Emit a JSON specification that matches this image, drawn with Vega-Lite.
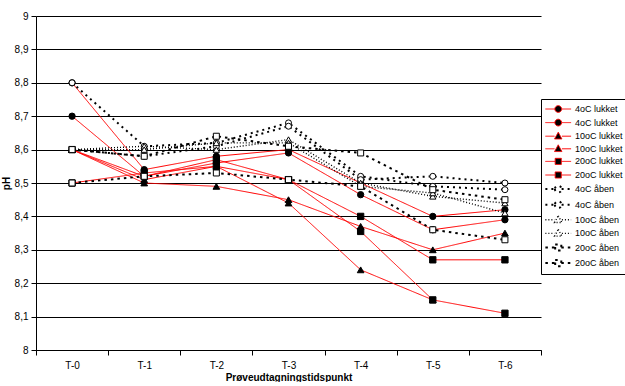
{
  "$schema": "https://vega.github.io/schema/vega-lite/v6.json",
  "width": 505,
  "height": 334,
  "padding": {"left": 1, "top": 11, "right": 0, "bottom": 0},
  "background": "white",
  "config": {
    "view": {"stroke": null},
    "font": "Liberation Sans",
    "axis": {"domainColor": "black", "tickColor": "black", "labelColor": "black", "titleColor": "black", "labelFont": "Liberation Sans", "titleFont": "Liberation Sans"}
  },
  "data": {"values": [
    {"s": "4oC lukket|1", "t": "T-0", "pH": 8.80}, {"s": "4oC lukket|1", "t": "T-1", "pH": 8.54}, {"s": "4oC lukket|1", "t": "T-2", "pH": 8.58}, {"s": "4oC lukket|1", "t": "T-3", "pH": 8.60}, {"s": "4oC lukket|1", "t": "T-4", "pH": 8.50}, {"s": "4oC lukket|1", "t": "T-5", "pH": 8.40}, {"s": "4oC lukket|1", "t": "T-6", "pH": 8.42},
    {"s": "4oC lukket|2", "t": "T-0", "pH": 8.70}, {"s": "4oC lukket|2", "t": "T-1", "pH": 8.52}, {"s": "4oC lukket|2", "t": "T-2", "pH": 8.56}, {"s": "4oC lukket|2", "t": "T-3", "pH": 8.59}, {"s": "4oC lukket|2", "t": "T-4", "pH": 8.465}, {"s": "4oC lukket|2", "t": "T-5", "pH": 8.36}, {"s": "4oC lukket|2", "t": "T-6", "pH": 8.39},
    {"s": "10oC lukket|1", "t": "T-0", "pH": 8.60}, {"s": "10oC lukket|1", "t": "T-1", "pH": 8.50}, {"s": "10oC lukket|1", "t": "T-2", "pH": 8.49}, {"s": "10oC lukket|1", "t": "T-3", "pH": 8.45}, {"s": "10oC lukket|1", "t": "T-4", "pH": 8.37}, {"s": "10oC lukket|1", "t": "T-5", "pH": 8.30}, {"s": "10oC lukket|1", "t": "T-6", "pH": 8.35},
    {"s": "10oC lukket|2", "t": "T-0", "pH": 8.60}, {"s": "10oC lukket|2", "t": "T-1", "pH": 8.51}, {"s": "10oC lukket|2", "t": "T-2", "pH": 8.55}, {"s": "10oC lukket|2", "t": "T-3", "pH": 8.44}, {"s": "10oC lukket|2", "t": "T-4", "pH": 8.24}, {"s": "10oC lukket|2", "t": "T-5", "pH": 8.15},
    {"s": "20oC lukket|1", "t": "T-0", "pH": 8.50}, {"s": "20oC lukket|1", "t": "T-1", "pH": 8.53}, {"s": "20oC lukket|1", "t": "T-2", "pH": 8.55}, {"s": "20oC lukket|1", "t": "T-3", "pH": 8.51}, {"s": "20oC lukket|1", "t": "T-4", "pH": 8.40}, {"s": "20oC lukket|1", "t": "T-5", "pH": 8.27}, {"s": "20oC lukket|1", "t": "T-6", "pH": 8.27},
    {"s": "20oC lukket|2", "t": "T-0", "pH": 8.60}, {"s": "20oC lukket|2", "t": "T-1", "pH": 8.52}, {"s": "20oC lukket|2", "t": "T-2", "pH": 8.57}, {"s": "20oC lukket|2", "t": "T-3", "pH": 8.51}, {"s": "20oC lukket|2", "t": "T-4", "pH": 8.355}, {"s": "20oC lukket|2", "t": "T-5", "pH": 8.15}, {"s": "20oC lukket|2", "t": "T-6", "pH": 8.11},
    {"s": "4oC åben|1", "t": "T-0", "pH": 8.80}, {"s": "4oC åben|1", "t": "T-1", "pH": 8.61}, {"s": "4oC åben|1", "t": "T-2", "pH": 8.62}, {"s": "4oC åben|1", "t": "T-3", "pH": 8.68}, {"s": "4oC åben|1", "t": "T-4", "pH": 8.52}, {"s": "4oC åben|1", "t": "T-5", "pH": 8.49}, {"s": "4oC åben|1", "t": "T-6", "pH": 8.48},
    {"s": "4oC åben|2", "t": "T-0", "pH": 8.60}, {"s": "4oC åben|2", "t": "T-1", "pH": 8.58}, {"s": "4oC åben|2", "t": "T-2", "pH": 8.61}, {"s": "4oC åben|2", "t": "T-3", "pH": 8.67}, {"s": "4oC åben|2", "t": "T-4", "pH": 8.51}, {"s": "4oC åben|2", "t": "T-5", "pH": 8.52}, {"s": "4oC åben|2", "t": "T-6", "pH": 8.50},
    {"s": "10oC åben|1", "t": "T-0", "pH": 8.60}, {"s": "10oC åben|1", "t": "T-1", "pH": 8.61}, {"s": "10oC åben|1", "t": "T-2", "pH": 8.60}, {"s": "10oC åben|1", "t": "T-3", "pH": 8.63}, {"s": "10oC åben|1", "t": "T-4", "pH": 8.50}, {"s": "10oC åben|1", "t": "T-5", "pH": 8.46}, {"s": "10oC åben|1", "t": "T-6", "pH": 8.44},
    {"s": "10oC åben|2", "t": "T-0", "pH": 8.60}, {"s": "10oC åben|2", "t": "T-1", "pH": 8.60}, {"s": "10oC åben|2", "t": "T-2", "pH": 8.62}, {"s": "10oC åben|2", "t": "T-3", "pH": 8.62}, {"s": "10oC åben|2", "t": "T-4", "pH": 8.49}, {"s": "10oC åben|2", "t": "T-5", "pH": 8.47}, {"s": "10oC åben|2", "t": "T-6", "pH": 8.41},
    {"s": "20oC åben|1", "t": "T-0", "pH": 8.60}, {"s": "20oC åben|1", "t": "T-1", "pH": 8.58}, {"s": "20oC åben|1", "t": "T-2", "pH": 8.64}, {"s": "20oC åben|1", "t": "T-3", "pH": 8.61}, {"s": "20oC åben|1", "t": "T-4", "pH": 8.59}, {"s": "20oC åben|1", "t": "T-5", "pH": 8.48}, {"s": "20oC åben|1", "t": "T-6", "pH": 8.45},
    {"s": "20oC åben|2", "t": "T-0", "pH": 8.50}, {"s": "20oC åben|2", "t": "T-1", "pH": 8.52}, {"s": "20oC åben|2", "t": "T-2", "pH": 8.53}, {"s": "20oC åben|2", "t": "T-3", "pH": 8.51}, {"s": "20oC åben|2", "t": "T-4", "pH": 8.49}, {"s": "20oC åben|2", "t": "T-5", "pH": 8.36}, {"s": "20oC åben|2", "t": "T-6", "pH": 8.33}
  ]},
  "encoding": {
    "x": {
      "field": "t", "type": "ordinal", "bandPosition": 0.5,
      "scale": {"type": "band", "paddingInner": 0, "paddingOuter": 0},
      "axis": {"title": "Prøveudtagningstidspunkt", "titleFontSize": 10, "titleFontWeight": "bold", "titlePadding": 2, "labelAngle": 0, "labelFontSize": 10, "labelPadding": 5, "tickBand": "extent", "tickSize": 5, "grid": false}
    },
    "y": {
      "field": "pH", "type": "quantitative",
      "scale": {"domain": [8, 9], "nice": false, "zero": false},
      "axis": {"title": "pH", "titleFontSize": 10, "titleFontWeight": "bold", "titlePadding": 3, "values": [8, 8.1, 8.2, 8.3, 8.4, 8.5, 8.6, 8.7, 8.8, 8.9, 9], "labelExpr": "replace(toString(round(datum.value*10)/10), '.', ',')", "labelFontSize": 10, "labelPadding": 3, "tickSize": 5, "grid": true, "gridColor": "black", "gridWidth": 1, "gridOpacity": 1}
    }
  },
  "layer": [
    {
      "mark": {"type": "line"},
      "encoding": {
        "color": {
          "field": "s", "type": "nominal",
          "scale": {
            "domain": ["4oC lukket|1", "4oC lukket|2", "10oC lukket|1", "10oC lukket|2", "20oC lukket|1", "20oC lukket|2", "4oC åben|1", "4oC åben|2", "10oC åben|1", "10oC åben|2", "20oC åben|1", "20oC åben|2"],
            "range": ["#ff0000", "#ff0000", "#ff0000", "#ff0000", "#ff0000", "#ff0000", "black", "black", "black", "black", "black", "black"]
          },
          "legend": {
            "title": null, "orient": "none", "legendX": 505, "legendY": 83,
            "labelExpr": "split(datum.label, '|')[0]",
            "labelFontSize": 9, "labelFont": "Liberation Sans", "labelColor": "black",
            "strokeColor": "black", "fillColor": "white", "padding": 3,
            "symbolSize": 150, "symbolStrokeWidth": 1.2, "rowPadding": 0.6, "labelOffset": 16,
            "encode": {"symbols": {"update": {
              "shape": {"signal": "indexof(datum.value,'4oC')===0 ? 'M-1,0L0.55,0M1.65,0L3.2,0M0.55,0A0.55,0.55,0,1,0,1.65,0A0.55,0.55,0,1,0,0.55,0Z' : indexof(datum.value,'10oC')===0 ? 'M-1,0L0.5,0M1.7,0L3.2,0M1.1,-0.65L1.7,0.45L0.5,0.45Z' : 'M-1,0L0.6,0M1.6,0L3.2,0M0.6,-0.5L1.6,-0.5L1.6,0.5L0.6,0.5Z'"},
              "fill": {"signal": "indexof(datum.value,'åben')>=0 ? 'white' : 'black'"},
              "strokeWidth": {"signal": "indexof(datum.value,'10oC åben')===0 ? 1.3 : indexof(datum.value,'åben')>=0 ? 1.8 : 1.2"},
              "opacity": {"value": 1}
            }}}
          }
        },
        "strokeDash": {
          "field": "s", "type": "nominal",
          "scale": {
            "domain": ["4oC lukket|1", "4oC lukket|2", "10oC lukket|1", "10oC lukket|2", "20oC lukket|1", "20oC lukket|2", "4oC åben|1", "4oC åben|2", "10oC åben|1", "10oC åben|2", "20oC åben|1", "20oC åben|2"],
            "range": [[1, 0], [1, 0], [1, 0], [1, 0], [1, 0], [1, 0], [2, 4], [2, 4], [1, 2], [1, 2], [2.5, 4], [2.5, 4]]
          },
          "legend": {"title": null}
        },
        "strokeWidth": {
          "field": "s", "type": "ordinal",
          "scale": {
            "type": "ordinal",
            "domain": ["4oC lukket|1", "4oC lukket|2", "10oC lukket|1", "10oC lukket|2", "20oC lukket|1", "20oC lukket|2", "4oC åben|1", "4oC åben|2", "10oC åben|1", "10oC åben|2", "20oC åben|1", "20oC åben|2"],
            "range": [1, 1, 1, 1, 1, 1, 2, 2, 1.4, 1.4, 2, 2]
          },
          "legend": null
        }
      }
    },
    {
      "transform": [{"filter": "indexof(datum.s,'4oC lukket')===0"}],
      "mark": {"type": "point", "shape": "circle", "filled": true, "fill": "black", "stroke": "black", "strokeWidth": 1, "opacity": 1, "size": 40}
    },
    {
      "transform": [{"filter": "indexof(datum.s,'10oC lukket')===0"}],
      "mark": {"type": "point", "shape": "triangle-up", "filled": true, "fill": "black", "stroke": "black", "strokeWidth": 1, "opacity": 1, "size": 45}
    },
    {
      "transform": [{"filter": "indexof(datum.s,'20oC lukket')===0"}],
      "mark": {"type": "point", "shape": "square", "filled": true, "fill": "black", "stroke": "black", "strokeWidth": 1, "opacity": 1, "size": 40}
    },
    {
      "transform": [{"filter": "indexof(datum.s,'4oC åben')===0"}],
      "mark": {"type": "point", "shape": "circle", "filled": true, "fill": "white", "stroke": "black", "strokeWidth": 1, "opacity": 1, "size": 36}
    },
    {
      "transform": [{"filter": "indexof(datum.s,'10oC åben')===0"}],
      "mark": {"type": "point", "shape": "triangle-up", "filled": true, "fill": "white", "stroke": "black", "strokeWidth": 1, "opacity": 1, "size": 40}
    },
    {
      "transform": [{"filter": "indexof(datum.s,'20oC åben')===0"}],
      "mark": {"type": "point", "shape": "square", "filled": true, "fill": "white", "stroke": "black", "strokeWidth": 1, "opacity": 1, "size": 36}
    }
  ]
}
